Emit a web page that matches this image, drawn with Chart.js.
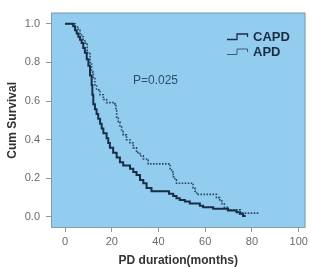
<!DOCTYPE html>
<html>
<head>
<meta charset="utf-8">
<script src="https://cdn.jsdelivr.net/npm/chart.js@4.4.0/dist/chart.umd.min.js"></script>
<style>
  html, body { margin: 0; padding: 0; background: #fff; }
  #wrap { width: 311px; height: 267px; }
</style>
</head>
<body>
<div id="wrap"><canvas id="kmChart" width="311" height="267"></canvas></div>
<script>
// Kaplan-Meier estimates (months, cumulative survival)
const capdMonths = [0, 3.5, 4.3, 5.0, 5.7, 6.4, 7.1, 7.8, 8.5, 9.3, 10.0, 10.7, 11.4, 11.7, 12.1, 12.8, 13.5, 14.2, 15.0, 15.7, 16.4, 17.8, 18.5, 19.2, 20.6, 22.1, 23.5, 24.9, 27.8, 29.2, 30.6, 32.1, 33.5, 34.9, 37.0, 44.5, 46.3, 47.7, 49.1, 51.3, 53.4, 57.7, 59.1, 63.4, 69.8, 73.4, 74.8, 76.2, 76.9];
const capdSurvival = [1, 0.987, 0.967, 0.95, 0.933, 0.917, 0.9, 0.875, 0.85, 0.817, 0.783, 0.733, 0.683, 0.633, 0.583, 0.558, 0.533, 0.508, 0.483, 0.458, 0.433, 0.408, 0.383, 0.358, 0.333, 0.308, 0.283, 0.267, 0.25, 0.233, 0.217, 0.192, 0.175, 0.15, 0.133, 0.12, 0.108, 0.097, 0.088, 0.08, 0.07, 0.058, 0.05, 0.042, 0.033, 0.025, 0.017, 0.005, 0];

const apdMonths = [0, 4.3, 5.7, 6.4, 7.1, 7.8, 8.5, 9.5, 10.7, 11.4, 12.1, 12.8, 13.5, 15.0, 16.4, 17.8, 21.4, 21.8, 22.1, 22.8, 23.5, 24.2, 24.9, 26.3, 27.8, 29.2, 30.6, 32.1, 33.5, 35.6, 45.0, 45.6, 46.3, 47.0, 47.7, 54.8, 55.6, 56.3, 64.8, 66.2, 67.2, 68.2, 69.5, 75.0, 75.7, 83.3];
const apdSurvival = [1, 0.983, 0.967, 0.95, 0.933, 0.917, 0.9, 0.85, 0.8, 0.75, 0.717, 0.683, 0.658, 0.633, 0.608, 0.592, 0.583, 0.55, 0.517, 0.492, 0.467, 0.442, 0.425, 0.4, 0.383, 0.358, 0.333, 0.317, 0.3, 0.275, 0.25, 0.233, 0.208, 0.192, 0.175, 0.15, 0.133, 0.117, 0.1, 0.083, 0.067, 0.05, 0.037, 0.025, 0.02, 0.02];

const xTicks = [0, 20, 40, 60, 80, 100];
const yTicks = [0, 0.2, 0.4, 0.6, 0.8, 1.0];
const pValueText = "P=0.025";

const toPoints = (xs, ys) => xs.map((x, i) => ({ x: x, y: ys[i] }));

const plotBg = "#92cdf0";
const lineDark = "#1b2d46";
const lineDot = "#2c4767";

// blue plotting box + frame
const frame = {
    id: "frame",
    beforeDraw(chart) {
        const { ctx, chartArea: a } = chart;
        ctx.save();
        ctx.fillStyle = plotBg;
        ctx.fillRect(a.left, a.top, a.right - a.left, a.bottom - a.top);
        ctx.strokeStyle = "#8c9aa4";
        ctx.lineWidth = 1;
        ctx.strokeRect(a.left + 0.5, a.top + 0.5, a.right - a.left - 1, a.bottom - a.top - 1);
        ctx.restore();
    },
    afterDraw(chart) {
        const ctx = chart.ctx;
        ctx.save();
        // p value
        ctx.font = "12px 'Liberation Sans', Arial, sans-serif";
        ctx.fillStyle = "#2f4f6e";
        ctx.textBaseline = "middle";
        ctx.fillText(pValueText, 133, 81);

        // legend with step glyphs
        const items = [
            { label: "CAPD", y: 37, color: lineDark, w: 1.3 },
            { label: "APD", y: 52, color: "#3d5877", w: 1 }
        ];
        items.forEach(it => {
            ctx.strokeStyle = it.color;
            ctx.lineWidth = it.w;
            ctx.beginPath();
            ctx.moveTo(227, it.y + 2.5);
            ctx.lineTo(237, it.y + 2.5);
            ctx.lineTo(237, it.y - 3);
            ctx.lineTo(247.5, it.y - 3);
            ctx.lineTo(247.5, it.y);
            ctx.stroke();
            ctx.font = "bold 13px 'Liberation Sans', Arial, sans-serif";
            ctx.fillStyle = "#1c2b40";
            ctx.fillText(it.label, 253, it.y);
        });
        ctx.restore();
    }
};

const tickFont = { family: "'Liberation Sans', Arial, sans-serif", size: 11 };
const titleFont = { family: "'Liberation Sans', Arial, sans-serif", size: 12, weight: "bold", lineHeight: 1 };

new Chart(document.getElementById("kmChart").getContext("2d"), {
    type: "scatter",
    data: {
        datasets: [{
            label: "CAPD",
            data: toPoints(capdMonths, capdSurvival),
            showLine: true,
            stepped: true,
            borderColor: lineDark,
            borderWidth: 2,
            pointRadius: 0,
            fill: false
        }, {
            label: "APD",
            data: toPoints(apdMonths, apdSurvival),
            showLine: true,
            stepped: true,
            borderColor: lineDot,
            borderWidth: 1.6,
            borderDash: [1.6, 1.4],
            pointRadius: 0,
            fill: false
        }]
    },
    options: {
        responsive: false,
        animation: false,
        layout: { padding: { top: 5, right: 5, left: 0, bottom: 0 } },
        plugins: {
            legend: { display: false },
            tooltip: { enabled: false }
        },
        scales: {
            x: {
                type: "linear",
                min: -6,
                max: 102.9,
                afterBuildTicks: s => { s.ticks = xTicks.map(v => ({ value: v })); },
                afterFit: s => { s.height = 39; },
                ticks: { color: "#6a6a6a", font: tickFont, padding: 3, maxRotation: 0 },
                grid: { drawOnChartArea: false, drawTicks: true, tickLength: 4, color: "#8c9aa4" },
                border: { display: false },
                title: { display: true, text: "PD duration(months)", color: "#333", font: titleFont, padding: { top: 0, bottom: 0 } }
            },
            y: {
                type: "linear",
                min: -0.057,
                max: 1.058,
                afterBuildTicks: s => { s.ticks = yTicks.map(v => ({ value: v })); },
                afterFit: s => { s.width = 51; },
                ticks: { color: "#6a6a6a", font: tickFont, padding: 6, callback: v => v.toFixed(1) },
                grid: { drawOnChartArea: false, drawTicks: true, tickLength: 5, color: "#8c9aa4" },
                border: { display: false },
                title: { display: true, text: "Cum Survival", color: "#333", font: titleFont, padding: { top: 6.5, bottom: 0 } }
            }
        }
    },
    plugins: [frame]
});
</script>
</body>
</html>
